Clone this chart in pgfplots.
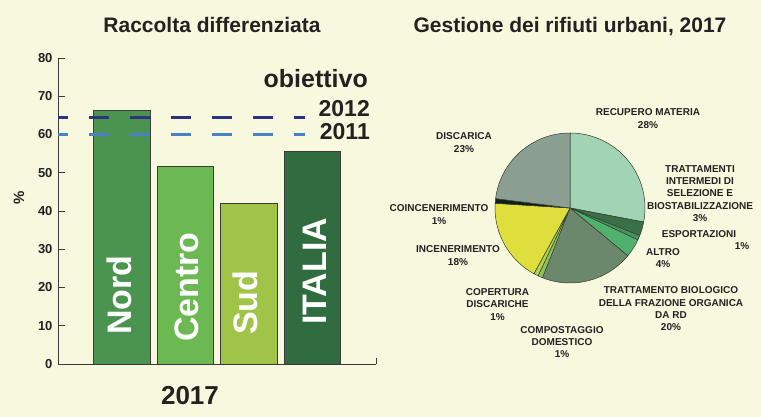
\documentclass[border=0pt]{standalone}
\usepackage{fontspec}
\setmainfont{Liberation Sans}
\usepackage{pgfplots}
\pgfplotsset{compat=1.18}

\definecolor{bg}{RGB}{248,248,222}
\definecolor{txt}{RGB}{34,34,34}
\definecolor{axisgray}{RGB}{60,60,60}
\definecolor{barnord}{RGB}{74,148,80}
\definecolor{barcentro}{RGB}{108,184,82}
\definecolor{barsud}{RGB}{160,196,72}
\definecolor{baritalia}{RGB}{48,108,64}
\definecolor{navy}{RGB}{44,52,128}
\definecolor{lblue}{RGB}{74,128,196}
\definecolor{cRecup}{RGB}{160,212,180}
\definecolor{cTratt}{RGB}{58,112,72}
\definecolor{cEsport}{RGB}{76,144,96}
\definecolor{cAltro}{RGB}{80,176,110}
\definecolor{cBio}{RGB}{108,136,108}
\definecolor{cCompost}{RGB}{140,196,90}
\definecolor{cCopert}{RGB}{180,210,70}
\definecolor{cIncen}{RGB}{222,222,60}
\definecolor{cCoinc}{RGB}{20,30,20}
\definecolor{cDisc}{RGB}{138,158,146}
\definecolor{pieedge}{RGB}{50,60,50}

\begin{document}
\begin{tikzpicture}[x=1pt,y=1pt]
\useasboundingbox (0,0) rectangle (761,417);
\fill[bg] (0,0) rectangle (761,417);

% ---- bar chart ----
\begin{axis}[
  at={(58pt,53pt)}, anchor=south west,
  scale only axis, width=318pt, height=306pt,
  xmin=-1, xmax=4, ymin=0, ymax=80,
  axis lines=left,
  axis line style={-, draw=axisgray, line width=0.9pt},
  xtick=\empty,
  ytick={0,10,...,80},
  tick align=inside,
  major tick length=7pt,
  tick style={draw=axisgray, line width=0.9pt},
  /pgf/number format/assume math mode=true,
  yticklabel style={font=\fontsize{13}{13}\selectfont\bfseries, text=txt, xshift=-2pt},
  clip=false,
]
\addplot[ybar, bar width=0.89, bar shift=0pt, fill=barnord, draw=axisgray, line width=0.6pt] coordinates {(0,66.2)};
\addplot[ybar, bar width=0.89, bar shift=0pt, fill=barcentro, draw=axisgray, line width=0.6pt] coordinates {(1,51.8)};
\addplot[ybar, bar width=0.89, bar shift=0pt, fill=barsud, draw=axisgray, line width=0.6pt] coordinates {(2,41.9)};
\addplot[ybar, bar width=0.89, bar shift=0pt, fill=baritalia, draw=axisgray, line width=0.6pt] coordinates {(3,55.5)};
\addplot[navy, line width=3.3pt, dash pattern=on 20pt off 21pt, dash phase=10pt] coordinates {(-1,64.5) (2.884,64.5)};
\addplot[lblue, line width=3pt, dash pattern=on 20pt off 21pt, dash phase=10pt] coordinates {(-1,60) (2.884,60)};
\draw[axisgray, line width=0.9pt] (axis cs:4,0) -- (axis cs:4,1.6);
\begin{scope}[every node/.style={rotate=90, anchor=west, inner sep=0pt, text=white, font=\fontsize{34}{34}\selectfont\bfseries}]
\node at (axis cs:-0.03,7.6) {Nord};
\node at (axis cs:1.02,5.75) {Centro};
\node at (axis cs:1.95,7.6) {Sud};
\node at (axis cs:3.03,10.2) {ITALIA};
\end{scope}
\end{axis}

\node[anchor=base, text=txt, font=\fontsize{21}{21}\selectfont\bfseries] at (212,384) {Raccolta differenziata};
\node[anchor=base east, inner sep=0pt, text=txt, font=\fontsize{25}{25}\selectfont\bfseries] at (368,329) {obiettivo};
\node[anchor=base east, inner sep=0pt, text=txt, font=\fontsize{23}{23}\selectfont\bfseries] at (370,300) {2012};
\node[anchor=base east, inner sep=0pt, text=txt, font=\fontsize{23}{23}\selectfont\bfseries] at (370,277) {2011};
\node[anchor=base, text=txt, font=\fontsize{26}{26}\selectfont\bfseries] at (190,12) {2017};
\node[rotate=90, text=txt, font=\fontsize{15}{15}\selectfont\bfseries] at (19,219) {\%};

% ---- pie chart ----
\begin{axis}[
  at={(570pt,209pt)}, anchor=origin,
  x=1pt, y=1pt,
  xmin=-80, xmax=80, ymin=-80, ymax=80,
  hide axis, clip=false,
]
\xdef\pieA{90}
\foreach \v/\c in {28/cRecup, 3/cTratt, 1/cEsport, 4/cAltro, 20/cBio,
                   1/cCompost, 1/cCopert, 18/cIncen, 1/cCoinc, 23/cDisc} {
  \pgfmathsetmacro\pieB{\pieA-3.6*\v}
  \edef\temp{\noexpand\filldraw[fill=\c, draw=pieedge, line width=0.5pt]
    (axis cs:0,0) -- ++(\pieA:75pt) arc[start angle=\pieA, end angle=\pieB, radius=75pt] -- cycle;}
  \temp
  \xdef\pieA{\pieB}
}
\end{axis}

\node[anchor=base, text=txt, font=\fontsize{21}{21}\selectfont\bfseries] at (570,384) {Gestione dei rifiuti urbani, 2017};

\begin{scope}[every node/.style={align=center, text=txt, inner sep=0pt, font=\fontsize{10}{12.3}\selectfont\bfseries}]
\node at (648,298.5) {RECUPERO MATERIA\\28\%};
\node at (464,274.5) {DISCARICA\\23\%};
\node at (700,223.5) {TRATTAMENTI\\INTERMEDI DI\\SELEZIONE E\\BIOSTABILIZZAZIONE\\3\%};
\node at (699,183) {ESPORTAZIONI};
\node at (742,171) {1\%};
\node at (663,159) {ALTRO\\4\%};
\node at (671,108) {TRATTAMENTO BIOLOGICO\\DELLA FRAZIONE ORGANICA\\DA RD\\20\%};
\node at (562,75) {COMPOSTAGGIO\\DOMESTICO\\1\%};
\node at (497.5,112.5) {COPERTURA\\DISCARICHE\\1\%};
\node at (458,161.5) {INCENERIMENTO\\18\%};
\node at (439,202.5) {COINCENERIMENTO\\1\%};
\end{scope}
\end{tikzpicture}
\end{document}
